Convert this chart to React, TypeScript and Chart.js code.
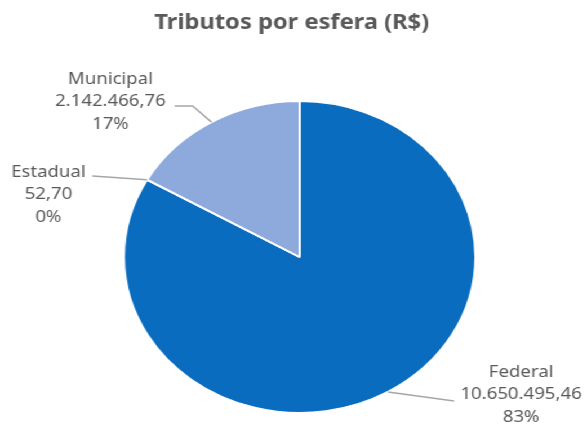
import React, { useEffect, useRef } from "react";
import { Chart, registerables } from "chart.js";

Chart.register(...registerables);

const categories = ["Federal", "Estadual", "Municipal"];
const values = [10650495.46, 52.7, 2142466.76];
const colors = ["#0A6CBE", "#2F5597", "#8EA9DB"];
const titleText = "Tributos por esfera (R$)";

const CANVAS_W = 521;
const CANVAS_H = 424;
const SCALE_X = 587 / CANVAS_W;

function fmtBR(v: number): string {
  const [intPart, dec] = v.toFixed(2).split(".");
  const withDots = intPart.replace(/\B(?=(\d{3})+(?!\d))/g, ".");
  return withDots + "," + dec;
}

// text centre x, first line y, extra leader points (from text side to arc)
const labelLayout = [
  { tx: 462.5, ty: 372, pts: [[403, 401]] },
  { tx: 43, ty: 172, pts: [[82, 176]] },
  { tx: 98, ty: 79, pts: [[155, 106], [171, 106]] },
];

const FONT = '"Noto Sans", "Open Sans", sans-serif';

const labelPlugin = {
  id: "pieLabels",
  afterDraw(chart: any) {
    const ctx = chart.ctx as CanvasRenderingContext2D;
    const total = values.reduce((a, b) => a + b, 0);
    ctx.save();
    // title
    ctx.fillStyle = "#595959";
    ctx.font = `bold 21px ${FONT}`;
    ctx.textAlign = "center";
    ctx.textBaseline = "middle";
    ctx.fillText(titleText, 259, 23);

    const meta = chart.getDatasetMeta(0);
    meta.data.forEach((arc: any, i: number) => {
      const p = arc.getProps(["x", "y", "startAngle", "endAngle", "outerRadius"], true);
      const mid = (p.startAngle + p.endAngle) / 2;
      const ax = p.x + Math.cos(mid) * p.outerRadius;
      const ay = p.y + Math.sin(mid) * p.outerRadius;
      const lay = labelLayout[i];
      // leader
      ctx.strokeStyle = "#A6A6A6";
      ctx.lineWidth = 1.5;
      ctx.beginPath();
      lay.pts.forEach((pt, k) => {
        if (k === 0) ctx.moveTo(pt[0], pt[1]);
        else ctx.lineTo(pt[0], pt[1]);
      });
      ctx.lineTo(ax, ay);
      ctx.stroke();
      // text
      ctx.fillStyle = "#595959";
      ctx.font = `16.5px ${FONT}`;
      ctx.textAlign = "center";
      ctx.textBaseline = "middle";
      const pct = Math.round((values[i] / total) * 100) + "%";
      const lines = [categories[i], fmtBR(values[i]), pct];
      lines.forEach((t, k) => ctx.fillText(t, lay.tx, lay.ty + k * 22.5));
    });
    ctx.restore();
  },
};

export default function App() {
  const ref = useRef<HTMLCanvasElement | null>(null);
  useEffect(() => {
    if (!ref.current) return;
    const chart = new Chart(ref.current, {
      type: "pie",
      data: {
        labels: categories,
        datasets: [
          {
            data: values,
            backgroundColor: colors,
            borderColor: "#FFFFFF",
            borderWidth: 2,
          },
        ],
      },
      options: {
        responsive: false,
        animation: false,
        events: [],
        layout: { padding: { left: 109, right: 98, top: 100, bottom: 10 } },
        plugins: {
          legend: { display: false },
          title: { display: false },
          tooltip: { enabled: false },
        },
      },
      plugins: [labelPlugin],
    });
    return () => chart.destroy();
  }, []);
  return (
    <div
      style={{
        position: "absolute",
        left: 0,
        top: 0,
        width: CANVAS_W,
        height: CANVAS_H,
        transform: `scaleX(${SCALE_X})`,
        transformOrigin: "0 0",
        background: "#FFFFFF",
      }}
    >
      <canvas ref={ref} width={CANVAS_W} height={CANVAS_H} style={{ width: CANVAS_W, height: CANVAS_H }} />
    </div>
  );
}
